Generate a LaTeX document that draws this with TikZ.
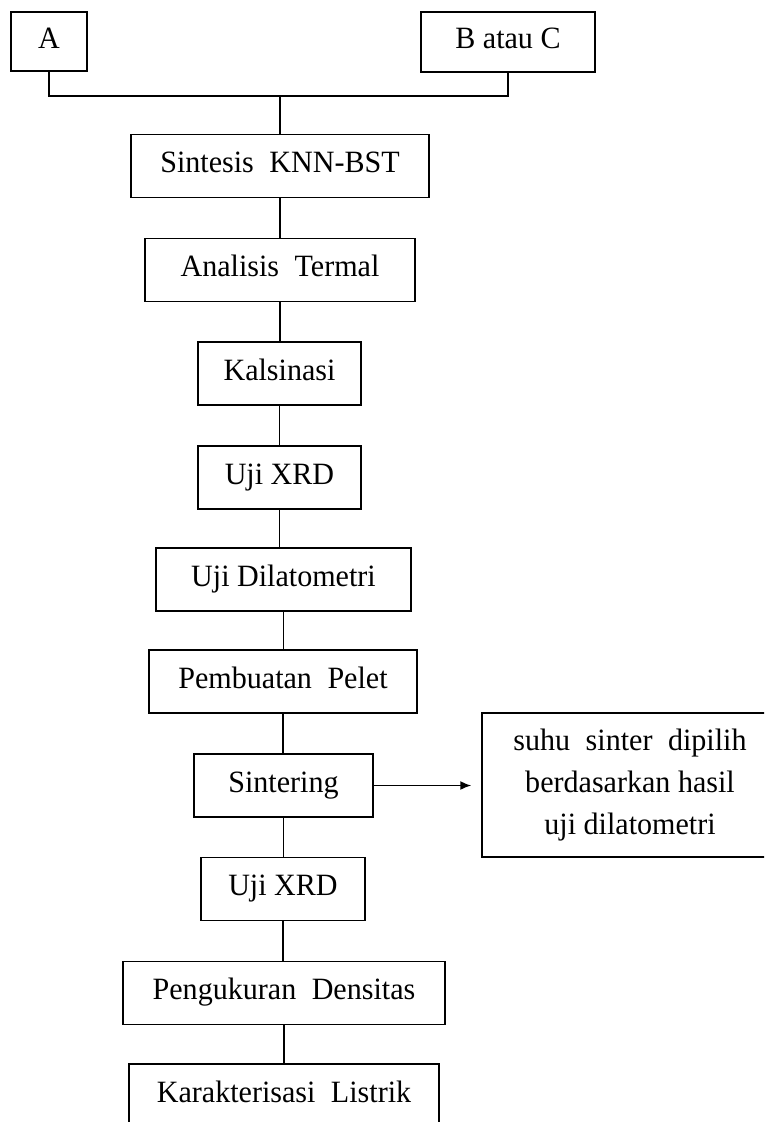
\documentclass[tikz,border=0pt]{standalone}
\usepackage{fontspec}
\setmainfont{Liberation Serif}[FakeStretch=0.97]
\usetikzlibrary{arrows.meta}
\tikzset{
  stepbox/.style={draw, line width=1.4pt, inner sep=0pt, rectangle,
    font=\fontsize{31}{42}\selectfont, text height=21.7pt, text depth=7.75pt,
    minimum height=#1},
  stepbox/.default=63pt,
  link/.style={line width=1.4pt},
  arrowlink/.style={line width=1.7pt, -{Latex[length=11pt,width=9pt]}}
}
\begin{document}
\begin{tikzpicture}[x=1pt,y=-1pt]
\clip (0,0) rectangle (764,1122);
\fill[white] (0,0) rectangle (764,1122);

\node[stepbox=59pt, minimum width=76pt] (a) at (49,41.5) {A};
\node[stepbox=60pt, minimum width=174pt] (b) at (508,42) {B atau C};

\node[stepbox, minimum width=298pt] (s1) at (280,166) {Sintesis\enspace KNN-BST};
\node[stepbox, minimum width=270pt] (s2) at (280,270) {Analisis\enspace Termal};
\node[stepbox, minimum width=163pt] (s3) at (279.5,373.5) {Kalsinasi};
\node[stepbox, minimum width=163pt] (s4) at (279.5,477.5) {Uji XRD};
\node[stepbox, minimum width=255pt] (s5) at (283.5,579.5) {Uji Dilatometri};
\node[stepbox, minimum width=268pt] (s6) at (283,681.5) {Pembuatan\enspace Pelet};
\node[stepbox, minimum width=179pt] (s7) at (283.5,785.5) {Sintering};
\node[stepbox, minimum width=164pt] (s8) at (283,889) {Uji XRD};
\node[stepbox, minimum width=322pt] (s9) at (284,993) {Pengukuran\enspace Densitas};
\node[stepbox, minimum width=310pt] (s10) at (284,1095.5) {Karakterisasi\enspace Listrik};

\node[draw, line width=1.4pt, inner sep=0pt, minimum width=296pt, minimum height=144pt,
      align=center, font=\fontsize{31}{42}\selectfont] (side) at (630,785)
      {suhu\enspace sinter\enspace dipilih\\berdasarkan hasil\\uji dilatometri};

\coordinate (j) at (s1.north |- 0,96);
\draw[link] (a.south) |- (j) -| (b.south);
\draw[link] (j) -- (s1.north);

\foreach \u/\l in {s1/s2, s2/s3, s3/s4, s4/s5, s5/s6, s6/s7, s7/s8, s8/s9, s9/s10}
  \draw[link] (\u.south) -- (\u.south |- \l.north);

\coordinate (tip) at ([xshift=-10pt]side.west |- s7.east);
\draw[arrowlink] (s7.east) -- (tip);
\end{tikzpicture}
\end{document}
